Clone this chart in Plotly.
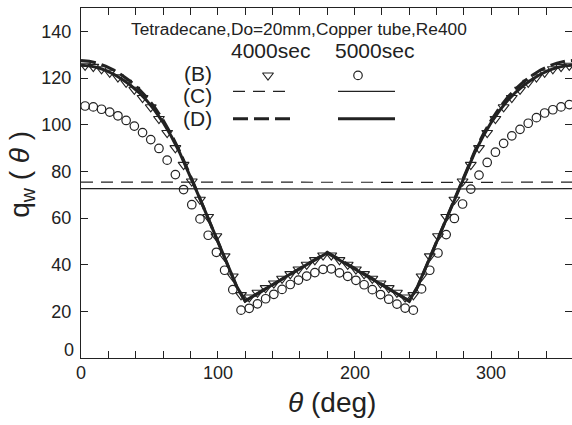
import plotly.graph_objects as go

# Measured wall heat flux, 4000 s (triangles) and 5000 s (circles)
theta_meas = [3, 9, 15, 21, 27, 33, 39, 45, 51, 57, 63, 69, 75, 81, 87, 93, 99, 105, 111, 117,
              123, 129, 135, 141, 147, 153, 159, 165, 171, 177, 183, 189, 195, 201, 207, 213, 219,
              225, 231, 237, 243, 249, 255, 261, 267, 273, 279, 285, 291, 297, 303, 309, 315, 321,
              327, 333, 339, 345, 351, 357]
q_b_4000 = [125.3, 124.8, 123.8, 122.3, 120.3, 118.0, 115.0, 111.5, 107.5, 102.5, 96.5, 90.0,
            82.8, 75.7, 67.9, 60.5, 52.2, 43.6, 35.0, 27.0, 26.0, 28.0, 30.0, 32.0, 34.0, 36.0,
            38.0, 40.0, 42.0, 44.0, 44.0, 42.0, 40.0, 38.0, 36.0, 34.0, 32.0, 30.0, 28.0, 26.0,
            27.0, 35.0, 43.6, 52.2, 60.5, 67.9, 75.7, 82.8, 90.0, 96.5, 102.5, 107.5, 111.5,
            115.0, 118.0, 120.3, 122.3, 123.8, 124.8, 125.3]
q_b_5000 = [108.0, 107.6, 106.6, 105.4, 103.8, 101.8, 99.4, 96.6, 93.6, 89.8, 84.8, 78.6, 72.2,
            65.7, 59.6, 52.6, 45.3, 37.6, 29.3, 20.5, 21.3, 23.2, 25.4, 27.3, 29.4, 31.5, 33.4,
            35.1, 36.6, 38.0, 38.2, 36.5, 35.0, 33.3, 31.4, 29.3, 27.2, 25.2, 23.1, 21.4, 20.5,
            29.6, 37.6, 45.0, 52.9, 59.8, 66.0, 72.4, 78.4, 83.8, 88.2, 92.0, 95.2, 98.0, 100.6,
            103.0, 105.0, 106.4, 107.6, 108.6]

# Calculated distribution, model (D)
theta_calc = [0, 6, 12, 18, 24, 30, 36, 42, 48, 54, 60, 66, 72, 78, 84, 90, 96, 102, 108, 114,
              120, 126, 132, 138, 144, 150, 156, 162, 168, 174, 180, 186, 192, 198, 204, 210,
              216, 222, 228, 234, 240, 246, 252, 258, 264, 270, 276, 282, 288, 294, 300, 306,
              312, 318, 324, 330, 336, 342, 348, 354, 360]
q_d_4000 = [127.5, 127.2, 126.4, 125.1, 123.4, 121.2, 118.6, 115.5, 111.8, 107.3, 102.0, 95.8,
            88.8, 80.9, 72.5, 64.0, 55.5, 47.0, 38.6, 30.3, 24.3, 26.4, 28.6, 30.8, 33.0, 35.1,
            37.2, 39.3, 41.3, 43.3, 45.3, 43.3, 41.3, 39.3, 37.2, 35.1, 33.0, 30.8, 28.6, 26.4,
            24.3, 30.3, 38.6, 47.0, 55.5, 64.0, 72.5, 80.9, 88.8, 95.8, 102.0, 107.3, 111.8,
            115.5, 118.6, 121.2, 123.4, 125.1, 126.4, 127.2, 127.5]
q_d_5000 = [125.5, 125.2, 124.5, 123.3, 121.6, 119.5, 117.0, 114.0, 110.4, 106.0, 101.0, 95.0,
            88.2, 80.5, 72.3, 64.0, 55.6, 47.2, 38.8, 30.5, 24.5, 26.5, 28.6, 30.7, 32.8, 34.9,
            37.0, 39.0, 41.0, 43.0, 45.0, 43.0, 41.0, 39.0, 37.0, 34.9, 32.8, 30.7, 28.6, 26.5,
            24.5, 30.5, 38.8, 47.2, 55.6, 64.0, 72.3, 80.5, 88.2, 95.0, 101.0, 106.0, 110.4,
            114.0, 117.0, 119.5, 121.6, 123.3, 124.5, 125.2, 125.5]

# Calculated distribution, model (C): nearly uniform
theta_c = [0, 60, 120, 180, 240, 300, 360]
q_c_4000 = [75.4, 75.3, 75.3, 75.3, 75.3, 75.3, 75.4]
q_c_5000 = [72.6, 72.5, 72.4, 72.4, 72.4, 72.5, 72.6]

x_label_vals = [0, 100, 200, 300]
y_tick_vals = [20, 40, 60, 80, 100, 120, 140]

W, H = 572, 425
L, R, T, B = 81, 0, 8, 66.5
PW = W - L - R
PH = H - T - B


def px(x):
    return (x - L) / PW


def py(y):
    return (H - B - y) / PH


INK = "#222222"
FONT = "Liberation Sans, Arial, sans-serif"

DASH_THIN = "12px,8px"
DASH_THICK = "15px,6px"

fig = go.Figure()

fig.add_trace(go.Scatter(x=theta_c, y=q_c_4000, mode="lines",
                         line=dict(color=INK, width=1.2, dash=DASH_THIN), hoverinfo="skip"))
fig.add_trace(go.Scatter(x=theta_c, y=q_c_5000, mode="lines",
                         line=dict(color=INK, width=1.2), hoverinfo="skip"))
fig.add_trace(go.Scatter(x=theta_meas, y=q_b_5000, mode="markers",
                         marker=dict(symbol="circle-open", size=8.5, color=INK, line=dict(width=1.2))))
fig.add_trace(go.Scatter(x=theta_meas, y=q_b_4000, mode="markers",
                         marker=dict(symbol="triangle-down-open", size=9.5, color=INK,
                                     line=dict(width=1.1))))
fig.add_trace(go.Scatter(x=theta_calc, y=q_d_4000, mode="lines",
                         line=dict(color=INK, width=3, dash=DASH_THICK)))
fig.add_trace(go.Scatter(x=theta_calc, y=q_d_5000, mode="lines",
                         line=dict(color=INK, width=3)))

# Right-hand tick marks (the frame's right edge falls just outside the canvas)
fig.add_trace(go.Scatter(x=[None], y=[None], yaxis="y3", hoverinfo="skip"))

# Key drawn on an overlay axis that spans the plot area in 0..1 units
key_kw = dict(xaxis="x2", yaxis="y2", hoverinfo="skip")
fig.add_trace(go.Scatter(x=[px(268)], y=[py(75.5)], mode="markers",
                         marker=dict(symbol="triangle-down-open", size=9.5, color=INK,
                                     line=dict(width=1.1)), **key_kw))
fig.add_trace(go.Scatter(x=[px(358)], y=[py(75.5)], mode="markers",
                         marker=dict(symbol="circle-open", size=8.5, color=INK,
                                     line=dict(width=1.2)), **key_kw))
fig.add_trace(go.Scatter(x=[px(233), px(290)], y=[py(91.5)] * 2, mode="lines",
                         line=dict(color=INK, width=1.2, dash=DASH_THIN), **key_kw))
fig.add_trace(go.Scatter(x=[px(338), px(395)], y=[py(91.5)] * 2, mode="lines",
                         line=dict(color=INK, width=1.2), **key_kw))
fig.add_trace(go.Scatter(x=[px(233), px(292)], y=[py(119)] * 2, mode="lines",
                         line=dict(color=INK, width=3, dash=DASH_THICK), **key_kw))
fig.add_trace(go.Scatter(x=[px(338), px(395)], y=[py(119)] * 2, mode="lines",
                         line=dict(color=INK, width=3), **key_kw))

tick_common = dict(ticks="inside", ticklen=7, tickwidth=1, tickcolor=INK,
                   tickfont=dict(family=FONT, size=18, color=INK))
axis_common = dict(showgrid=False, zeroline=False, showline=True, linecolor=INK,
                   linewidth=1.2, **tick_common)


def ann(text, x, y, size, xanchor="center", **kw):
    return dict(text=text, x=px(x), y=py(y), xref="paper", yref="paper", showarrow=False,
                xanchor=xanchor, yanchor="middle", font=dict(family=FONT, size=size, color=INK), **kw)


annotations = [
    ann("Tetradecane,Do=20mm,Copper tube,Re400", 129, 29.5, 17.3, xanchor="left"),
    ann("4000sec", 270.5, 51, 21),
    ann("5000sec", 374, 51, 21),
    ann("(B)", 197.5, 74, 21),
    ann("(C)", 197.5, 95.5, 21),
    ann("(D)", 197.5, 118.5, 21),
    ann("0", 69, 350, 18),
    ann("q<sub>w</sub> ( <i>θ</i> )", 22, 175, 28, textangle=-90),
    ann("<i>θ</i> (deg)", 332, 403, 28),
]
# Angle labels under the bottom axis
for v in x_label_vals:
    annotations.append(dict(text=str(v), x=v, xref="x", y=py(373.5), yref="paper",
                            showarrow=False, xanchor="center", yanchor="middle",
                            font=dict(family=FONT, size=18, color=INK)))

fig.update_layout(
    width=W, height=H,
    margin=dict(l=L, r=R, t=T, b=B, pad=0),
    paper_bgcolor="white", plot_bgcolor="white",
    showlegend=False,
    font=dict(family=FONT, color=INK),
    xaxis=dict(range=[0, 359], tickmode="linear", tick0=0, dtick=20, mirror="ticks",
               showticklabels=False, **axis_common),
    yaxis=dict(range=[0, 150], tickvals=y_tick_vals, mirror=False, ticklabelstandoff=5,
               **axis_common),
    yaxis3=dict(overlaying="y", side="right", range=[0, 150], tickvals=y_tick_vals,
                showline=False, showgrid=False, zeroline=False, showticklabels=False,
                ticks="inside", ticklen=7, tickwidth=1, tickcolor=INK),
    xaxis2=dict(overlaying="x", range=[0, 1], visible=False, fixedrange=True),
    yaxis2=dict(overlaying="y", range=[0, 1], visible=False, fixedrange=True),
    annotations=annotations,
)

fig.write_html("out.html", config={"displayModeBar": False})
